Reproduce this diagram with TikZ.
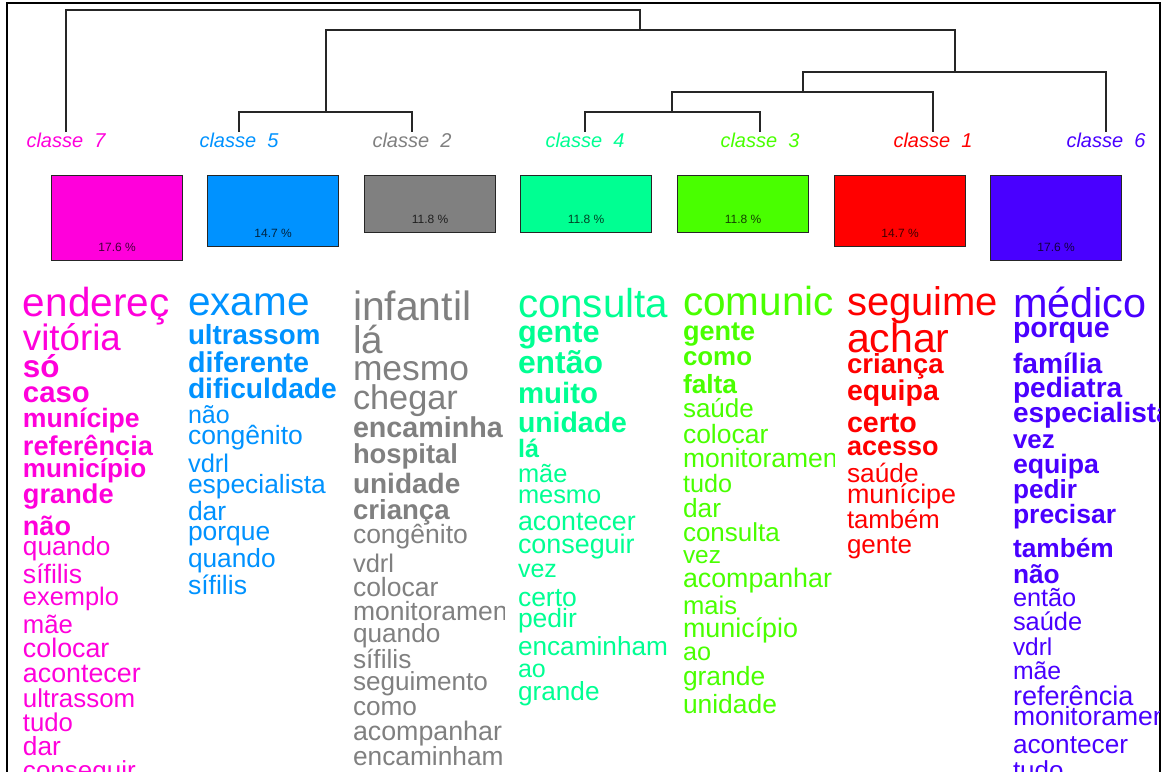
\documentclass[tikz,border=0pt]{standalone}
\usepackage{fontspec}
\setmainfont{Liberation Sans}
\definecolor{cA}{HTML}{FF0000}
\definecolor{cB}{HTML}{808080}
\definecolor{cC}{HTML}{49FF00}
\definecolor{cD}{HTML}{00FF92}
\definecolor{cE}{HTML}{0092FF}
\definecolor{cF}{HTML}{4900FF}
\definecolor{cG}{HTML}{FF00DB}
\tikzset{
  wordnode/.style={anchor=base west, inner sep=0pt, outer sep=0pt},
  dend/.style={line width=1.3pt, black!85},
  clslabel/.style={anchor=base, inner sep=0pt, font=\fontsize{20}{20}\selectfont\itshape},
  clsbox/.style={draw=black!85, line width=1.2pt, minimum width=131pt, anchor=north west, inner sep=0pt},
  pct/.style={font=\fontsize{12}{12}\selectfont, text=black, text opacity=0.75, inner sep=0pt},
  frame/.style={line width=2pt, black}
}
\newcommand\wrd[5]{\node[wordnode,font=\fontsize{#2}{#2}\selectfont#3] (#1) at (\colx,#4) {#5};}
\newcommand\colclip{\clip (\colx-12,270) rectangle (\colx+151,771);}
\begin{document}
\begin{tikzpicture}[x=1pt,y=-1pt]
\useasboundingbox (0,0) rectangle (1169,771);
\clip (0,0) rectangle (1169,771);
% frame
\draw[frame] (7,790) -- (7,3) -- (1160,3) -- (1160,790);
% dendrogram leaves
\coordinate (L7) at (66,132);
\coordinate (L5) at (239,132);
\coordinate (L2) at (412,132);
\coordinate (L4) at (585,132);
\coordinate (L3) at (760,132);
\coordinate (L1) at (933,132);
\coordinate (L6) at (1106,132);
\coordinate (J52) at (326,112);
\coordinate (J43) at (672,112);
\coordinate (J431) at (803,92);
\coordinate (J4316) at (955,72);
\coordinate (Jmid) at (640,30);
\coordinate (Jroot) at (353,10);
\draw[dend] (L5) |- (J52) -| (L2);
\draw[dend] (L4) |- (J43) -| (L3);
\draw[dend] (J43) |- (J431) -| (L1);
\draw[dend] (J431) |- (J4316) -| (L6);
\draw[dend] (J52) |- (Jmid) -| (J4316);
\draw[dend] (L7) |- (Jroot) -| (Jmid);
% class labels
\node[clslabel, text=cG] (t7) at (66,147) {classe\ \ 7};
\node[clslabel, text=cE] (t5) at (239,147) {classe\ \ 5};
\node[clslabel, text=cB] (t2) at (412,147) {classe\ \ 2};
\node[clslabel, text=cD] (t4) at (585,147) {classe\ \ 4};
\node[clslabel, text=cC] (t3) at (760,147) {classe\ \ 3};
\node[clslabel, text=cA] (t1) at (933,147) {classe\ \ 1};
\node[clslabel, text=cF] (t6) at (1106,147) {classe\ \ 6};
% boxes
\node[clsbox, fill=cG, minimum height=85pt] (b7) at (51,175) {};
\node[clsbox, fill=cE, minimum height=71pt] (b5) at (207,175) {};
\node[clsbox, fill=cB, minimum height=57pt] (b2) at (364,175) {};
\node[clsbox, fill=cD, minimum height=57pt] (b4) at (520,175) {};
\node[clsbox, fill=cC, minimum height=57pt] (b3) at (677,175) {};
\node[clsbox, fill=cA, minimum height=71pt] (b1) at (834,175) {};
\node[clsbox, fill=cF, minimum height=85pt] (b6) at (990,175) {};
\node[pct] (p7) at ([yshift=13.5pt]b7.south) {17.6 \%};
\node[pct] (p5) at ([yshift=13.5pt]b5.south) {14.7 \%};
\node[pct] (p2) at ([yshift=13.5pt]b2.south) {11.8 \%};
\node[pct] (p4) at ([yshift=13.5pt]b4.south) {11.8 \%};
\node[pct] (p3) at ([yshift=13.5pt]b3.south) {11.8 \%};
\node[pct] (p1) at ([yshift=13.5pt]b1.south) {14.7 \%};
\node[pct] (p6) at ([yshift=13.5pt]b6.south) {17.6 \%};
% column 1 (classe 7)
\def\colx{23}
\begin{scope}[text=cG]
\colclip
\wrd{g1}{40.5}{\relax}{316}{endereç}
\wrd{g2}{36.7}{\relax}{350}{vitória}
\wrd{g3}{31.4}{\bfseries}{377}{só}
\wrd{g4}{29.3}{\bfseries}{402}{caso}
\wrd{g5}{26.6}{\bfseries}{427}{munícipe}
\wrd{g6}{27.2}{\bfseries}{455}{referência}
\wrd{g7}{26.1}{\bfseries}{477}{município}
\wrd{g8}{27.2}{\bfseries}{503}{grande}
\wrd{g9}{27}{\bfseries}{535}{não}
\wrd{g10}{26.2}{\relax}{555}{quando}
\wrd{g11}{26.6}{\relax}{583}{sífilis}
\wrd{g12}{25.4}{\relax}{605}{exemplo}
\wrd{g13}{25.7}{\relax}{633}{mãe}
\wrd{g14}{26.8}{\relax}{657}{colocar}
\wrd{g15}{26.8}{\relax}{682}{acontecer}
\wrd{g16}{25.9}{\relax}{707}{ultrassom}
\wrd{g17}{25.7}{\relax}{731}{tudo}
\wrd{g18}{26.3}{\relax}{755}{dar}
\wrd{g19}{26}{\relax}{779}{conseguir}
\end{scope}
% column 2 (classe 5)
\def\colx{188}
\begin{scope}[text=cE]
\colclip
\wrd{e1}{40.5}{\relax}{315}{exame}
\wrd{e2}{27.7}{\bfseries}{344}{ultrassom}
\wrd{e3}{28.7}{\bfseries}{372}{diferente}
\wrd{e4}{28.2}{\bfseries}{398}{dificuldade}
\wrd{e5}{25}{\relax}{423}{não}
\wrd{e6}{26.5}{\relax}{444}{congênito}
\wrd{e7}{25.5}{\relax}{472}{vdrl}
\wrd{e8}{26.4}{\relax}{493}{especialista}
\wrd{e9}{26.5}{\relax}{520}{dar}
\wrd{e10}{26.4}{\relax}{540}{porque}
\wrd{e11}{26.3}{\relax}{567}{quando}
\wrd{e12}{26.6}{\relax}{594}{sífilis}
\end{scope}
% column 3 (classe 2)
\def\colx{353}
\begin{scope}[text=cB]
\colclip
\wrd{b1w}{40.9}{\relax}{320}{infantil}
\wrd{b2w}{38.6}{\relax}{353}{lá}
\wrd{b3w}{35.4}{\relax}{380}{mesmo}
\wrd{b4w}{34.3}{\relax}{409}{chegar}
\wrd{b5w}{28.7}{\bfseries}{437}{encaminha}
\wrd{b6w}{27.4}{\bfseries}{463}{hospital}
\wrd{b7w}{28}{\bfseries}{493}{unidade}
\wrd{b8w}{27.6}{\bfseries}{519}{criança}
\wrd{b9w}{26.5}{\relax}{543}{congênito}
\wrd{b10w}{25.5}{\relax}{572}{vdrl}
\wrd{b11w}{26.5}{\relax}{596}{colocar}
\wrd{b12w}{26.5}{\relax}{620}{monitoramen}
\wrd{b13w}{26.2}{\relax}{642}{quando}
\wrd{b14w}{26.3}{\relax}{668}{sífilis}
\wrd{b15w}{26.1}{\relax}{690}{seguimento}
\wrd{b16w}{26.2}{\relax}{715}{como}
\wrd{b17w}{26.8}{\relax}{740}{acompanhar}
\wrd{b18w}{26.3}{\relax}{765}{encaminham}
\end{scope}
% column 4 (classe 4)
\def\colx{518}
\begin{scope}[text=cD]
\colclip
\wrd{d1}{40.3}{\relax}{317}{consulta}
\wrd{d2}{30.6}{\bfseries}{342}{gente}
\wrd{d3}{31.9}{\bfseries}{373}{então}
\wrd{d4}{29.4}{\bfseries}{403}{muito}
\wrd{d5}{28.4}{\bfseries}{432}{unidade}
\wrd{d6}{25.2}{\bfseries}{457}{lá}
\wrd{d7}{25.4}{\relax}{482}{mãe}
\wrd{d8}{25.4}{\relax}{503}{mesmo}
\wrd{d9}{26.8}{\relax}{530}{acontecer}
\wrd{d10}{26.9}{\relax}{553}{conseguir}
\wrd{d11}{25}{\relax}{577}{vez}
\wrd{d12}{26.5}{\relax}{606}{certo}
\wrd{d13}{26.5}{\relax}{627}{pedir}
\wrd{d14}{26.2}{\relax}{655}{encaminham}
\wrd{d15}{25}{\relax}{677}{ao}
\wrd{d16}{26.2}{\relax}{700}{grande}
\end{scope}
% column 5 (classe 3)
\def\colx{683}
\begin{scope}[text=cC]
\colclip
\wrd{c1w}{40.5}{\relax}{315}{comunic}
\wrd{c2w}{27.1}{\bfseries}{340}{gente}
\wrd{c3w}{25.9}{\bfseries}{365}{como}
\wrd{c4w}{26.3}{\bfseries}{393}{falta}
\wrd{c5w}{26}{\relax}{417}{saúde}
\wrd{c6w}{26.5}{\relax}{443}{colocar}
\wrd{c7w}{26.5}{\relax}{467}{monitoramen}
\wrd{c8w}{25.2}{\relax}{492}{tudo}
\wrd{c9w}{26.3}{\relax}{517}{dar}
\wrd{c10w}{26}{\relax}{541}{consulta}
\wrd{c11w}{24.4}{\relax}{563}{vez}
\wrd{c12w}{26.8}{\relax}{587}{acompanhar}
\wrd{c13w}{25.6}{\relax}{614}{mais}
\wrd{c14w}{26.9}{\relax}{637}{município}
\wrd{c15w}{25.2}{\relax}{660}{ao}
\wrd{c16w}{26.4}{\relax}{685}{grande}
\wrd{c17w}{26.4}{\relax}{713}{unidade}
\end{scope}
% column 6 (classe 1)
\def\colx{847}
\begin{scope}[text=cA]
\colclip
\wrd{a1}{40}{\relax}{315}{seguime}
\wrd{a2}{41}{\relax}{352}{achar}
\wrd{a3}{27.6}{\bfseries}{373}{criança}
\wrd{a4}{28.5}{\bfseries}{400}{equipa}
\wrd{a5}{28.6}{\bfseries}{432}{certo}
\wrd{a6}{27}{\bfseries}{455}{acesso}
\wrd{a7}{26.3}{\relax}{482}{saúde}
\wrd{a8}{26.9}{\relax}{503}{munícipe}
\wrd{a9}{25.7}{\relax}{528}{também}
\wrd{a10}{26}{\relax}{553}{gente}
\end{scope}
% column 7 (classe 6)
\def\colx{1013}
\begin{scope}[text=cF]
\clip (\colx-12,270) rectangle (1159,771);
\wrd{f1}{41.4}{\relax}{317}{médico}
\wrd{f2}{28.5}{\bfseries}{337}{porque}
\wrd{f3}{28.2}{\bfseries}{373}{família}
\wrd{f4}{28.1}{\bfseries}{397}{pediatra}
\wrd{f5}{28}{\bfseries}{422}{especialista}
\wrd{f6}{25.9}{\bfseries}{448}{vez}
\wrd{f7}{26.7}{\bfseries}{473}{equipa}
\wrd{f8}{26.2}{\bfseries}{498}{pedir}
\wrd{f9}{26.5}{\bfseries}{523}{precisar}
\wrd{f10}{26.3}{\bfseries}{557}{também}
\wrd{f11}{26.3}{\bfseries}{583}{não}
\wrd{f12}{25.3}{\relax}{606}{então}
\wrd{f13}{25.4}{\relax}{630}{saúde}
\wrd{f14}{24.4}{\relax}{655}{vdrl}
\wrd{f15}{24.8}{\relax}{679}{mãe}
\wrd{f16}{27.1}{\relax}{705}{referência}
\wrd{f17}{26.5}{\relax}{725}{monitoramen}
\wrd{f18}{26.2}{\relax}{753}{acontecer}
\wrd{f19}{26}{\relax}{779}{tudo}
\end{scope}
\end{tikzpicture}
\end{document}
